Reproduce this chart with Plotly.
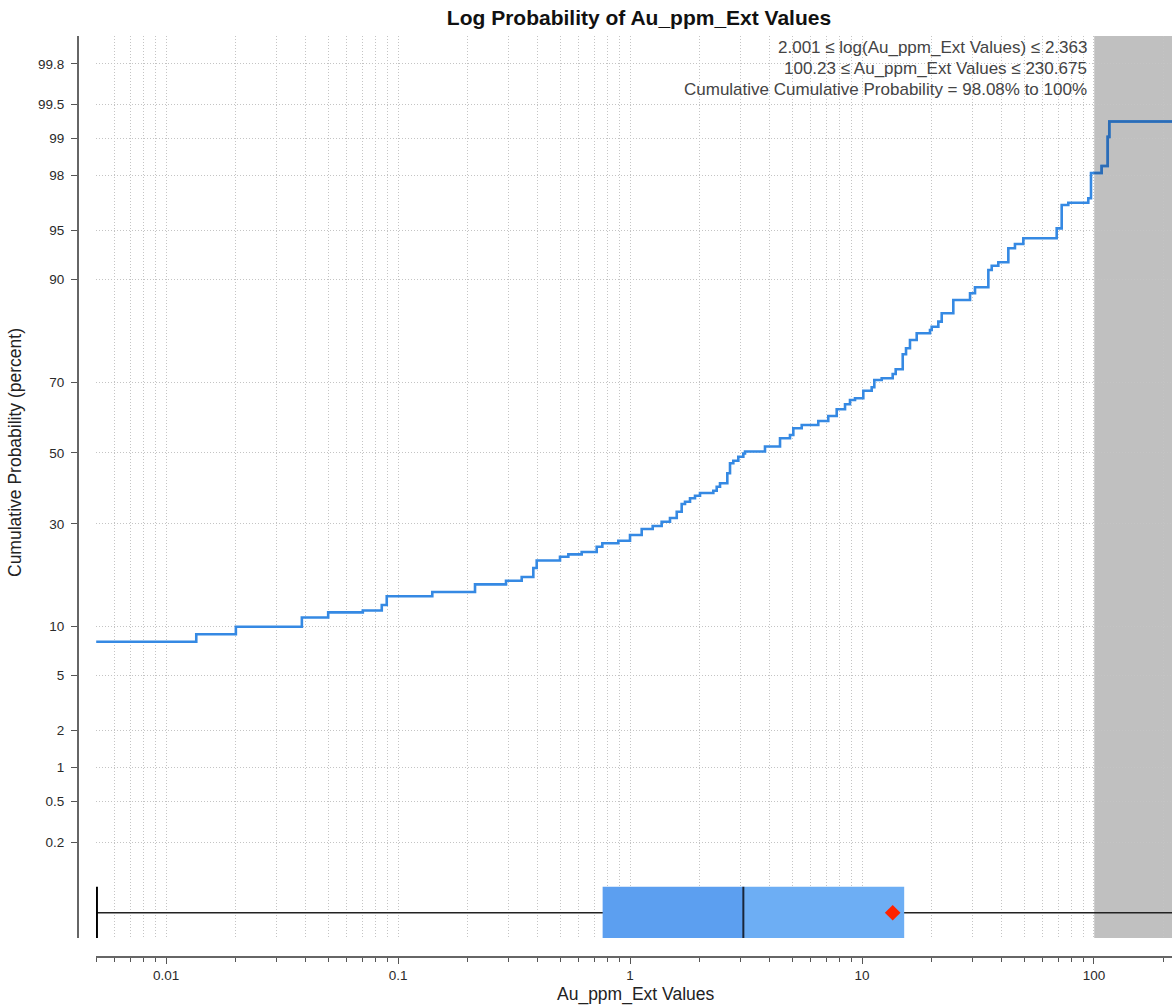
import math
from statistics import NormalDist
import plotly.graph_objects as go

# ---------------- data ----------------
au_values = [0.005, 0.0135, 0.02, 0.0385, 0.05, 0.0705, 0.0851, 0.0894, 0.1405, 0.2147,
             0.2921, 0.3413, 0.383, 0.3961, 0.4991, 0.5422, 0.619, 0.7185, 0.7598, 0.8905,
             1.0, 1.123, 1.2525, 1.3692, 1.487, 1.59, 1.67, 1.726, 1.814, 1.906,
             2.003, 2.286, 2.364, 2.443, 2.627, 2.698, 2.788, 2.93, 3.079, 3.131,
             3.818, 4.432, 4.893, 5.057, 5.497, 6.48, 7.155, 7.78, 8.45, 8.877,
             9.329, 10.13, 11.01, 11.3, 12.16, 13.56, 13.97, 14.98, 15.48, 16.1,
             17.21, 19.64, 19.97, 21.33, 22.06, 24.75, 29.22, 30.7, 35.04, 36.24,
             38.69, 42.73, 45.64, 49.59, 69.06, 72.57, 77.49, 94.5, 97.07, 107.9,
             114.6, 116.4]
cum_prob_pct = [8.14, 9.0, 9.94, 11.19, 11.93, 12.2, 13.04, 14.46, 15.2, 16.57,
                17.25, 17.95, 19.75, 21.33, 22.15, 22.68, 23.2, 24.41, 25.21, 25.83,
                27.21, 28.7, 29.46, 30.57, 31.53, 33.21, 35.3, 35.93, 36.88, 37.61,
                38.37, 39.02, 40.16, 41.13, 44.03, 46.96, 47.73, 48.91, 49.85, 50.44,
                51.92, 54.33, 55.3, 57.25, 58.2, 59.36, 60.78, 62.67, 64.07, 65.25,
                65.71, 67.75, 68.65, 70.54, 70.97, 72.05, 73.21, 76.73, 78.07, 79.84,
                81.2, 81.85, 82.49, 83.43, 84.93, 87.11, 88.12, 88.98, 91.21, 91.7,
                92.08, 93.5, 93.89, 94.39, 95.17, 96.67, 96.79, 97.02, 98.08, 98.31,
                99.03, 99.29]
x_max = 230.675

sel_lo = 100.23
sel_hi = 230.675
sel_log_lo = 2.001
sel_log_hi = 2.363
sel_p_lo = 98.08
sel_p_hi = 100

box_min = 0.005
box_q1 = 0.762
box_median = 3.08
box_q3 = 15.2
box_mean = 13.56
box_max = 230.675

ytick_pct = [0.2, 0.5, 1, 2, 5, 10, 30, 50, 70, 90, 95, 98, 99, 99.5, 99.8]
ytick_text = ["0.2", "0.5", "1", "2", "5", "10", "30", "50", "70", "90", "95", "98", "99", "99.5", "99.8"]
xtick_vals = [0.01, 0.1, 1, 10, 100]
xtick_text = ["0.01", "0.1", "1", "10", "100"]

# ---------------- helpers ----------------
nd = NormalDist()


def probit(p):
    return nd.inv_cdf(p / 100.0)


FONT = "Arial, 'Liberation Sans', sans-serif"
LINE_BLUE = "#3589E3"
LINE_BLUE_SEL = "#2C6CB5"
GRID = "#C4C4C4"
GRID_DASH = "1px,2px"
TICK_FONT = dict(family=FONT, size=13.5, color="#2A2A2A")

# layout constants (positions)
Y_RANGE = [-3.587, 3.084]
X_RANGE = [math.log10(0.00499), math.log10(216.9)]
BOX_Y = -3.40
BOX_H = 0.192

fig = go.Figure()

# cumulative probability step curve
zs = [probit(p) for p in cum_prob_pct]
fig.add_trace(go.Scatter(
    x=au_values + [x_max], y=zs + [zs[-1]],
    mode="lines", line=dict(color=LINE_BLUE, width=2.6, shape="hv"),
    hoverinfo="skip", showlegend=False))

# selected portion (inside grey band) drawn darker
sel_x = [sel_lo] + [v for v in au_values if v > sel_lo] + [x_max]
level_at_lo = [p for v, p in zip(au_values, cum_prob_pct) if v <= sel_lo][-1]
sel_p = [level_at_lo] + [p for v, p in zip(au_values, cum_prob_pct) if v > sel_lo]
sel_z = [probit(p) for p in sel_p]
sel_z = sel_z + [sel_z[-1]]
fig.add_trace(go.Scatter(
    x=sel_x, y=sel_z, mode="lines",
    line=dict(color=LINE_BLUE_SEL, width=2.6, shape="hv"),
    hoverinfo="skip", showlegend=False))

# box plot: whisker
fig.add_trace(go.Scatter(
    x=[box_min, box_max], y=[BOX_Y, BOX_Y], mode="lines",
    line=dict(color="#222222", width=1.5), hoverinfo="skip", showlegend=False))
# lower whisker cap
fig.add_trace(go.Scatter(
    x=[box_min, box_min], y=[BOX_Y - BOX_H, BOX_Y + BOX_H], mode="lines",
    line=dict(color="#000000", width=3.5), hoverinfo="skip", showlegend=False))
# upper whisker cap
fig.add_trace(go.Scatter(
    x=[box_max, box_max], y=[BOX_Y - BOX_H, BOX_Y + BOX_H], mode="lines",
    line=dict(color="#000000", width=3.5), hoverinfo="skip", showlegend=False))
# Q1 - median
fig.add_trace(go.Scatter(
    x=[box_q1, box_median, box_median, box_q1, box_q1],
    y=[BOX_Y - BOX_H, BOX_Y - BOX_H, BOX_Y + BOX_H, BOX_Y + BOX_H, BOX_Y - BOX_H],
    mode="lines", fill="toself", fillcolor="#5C9FF0", line=dict(width=0, color="#5C9FF0"),
    hoverinfo="skip", showlegend=False))
# median - Q3
fig.add_trace(go.Scatter(
    x=[box_median, box_q3, box_q3, box_median, box_median],
    y=[BOX_Y - BOX_H, BOX_Y - BOX_H, BOX_Y + BOX_H, BOX_Y + BOX_H, BOX_Y - BOX_H],
    mode="lines", fill="toself", fillcolor="#6DAEF4", line=dict(width=0, color="#6DAEF4"),
    hoverinfo="skip", showlegend=False))
# median line
fig.add_trace(go.Scatter(
    x=[box_median, box_median], y=[BOX_Y - BOX_H, BOX_Y + BOX_H], mode="lines",
    line=dict(color="#1A2638", width=2), hoverinfo="skip", showlegend=False))
# mean
fig.add_trace(go.Scatter(
    x=[box_mean], y=[BOX_Y], mode="markers",
    marker=dict(symbol="diamond", size=12, color="#FF2200", line=dict(width=0)),
    hoverinfo="skip", showlegend=False))

# grey selection band
fig.add_shape(type="rect", xref="x", yref="y", x0=sel_lo, x1=sel_hi * 10,
              y0=Y_RANGE[0], y1=Y_RANGE[1], fillcolor="#C0C0C0",
              line=dict(width=0), layer="below")

# minor tick values on the log axis
minor_vals = []
for d in range(-3, 3):
    for m in range(2, 10):
        minor_vals.append(m * 10 ** d)

W, H = 1172, 1008
ML, MR, MT, MB = 78, 0, 36, 51
pw = W - ML - MR
ph = H - MT - MB

fig.update_layout(
    width=W, height=H,
    margin=dict(l=ML, r=MR, t=MT, b=MB, pad=0),
    paper_bgcolor="white", plot_bgcolor="white",
    font=dict(family=FONT, size=13.5, color="#222222"),
    title=dict(text="<b>Log Probability of Au_ppm_Ext Values</b>",
               x=639 / W, xref="container", xanchor="center",
               y=1 - 18 / H, yref="container", yanchor="middle",
               font=dict(family=FONT, size=21, color="#111111")),
    xaxis=dict(
        type="log", range=X_RANGE, domain=[18 / pw, 1],
        anchor="free", position=0,
        tickmode="linear", tick0=math.log10(xtick_vals[0]), dtick=1,
        ticks="outside", ticklen=6, tickcolor="#555555", tickwidth=1,
        showline=True, linecolor="#666666", linewidth=2,
        showgrid=True, gridcolor=GRID, griddash=GRID_DASH, gridwidth=1,
        zeroline=False,
        tickfont=TICK_FONT,
        minor=dict(tickmode="array", tickvals=minor_vals, ticks="outside", ticklen=4,
                   tickcolor="#555555", showgrid=True, gridcolor=GRID,
                   griddash=GRID_DASH, gridwidth=1),
    ),
    yaxis=dict(
        range=Y_RANGE, domain=[19 / ph, 1],
        anchor="free", position=0,
        tickmode="array", tickvals=[probit(p) for p in ytick_pct], ticktext=ytick_text,
        ticks="outside", ticklen=6, tickcolor="#555555", tickwidth=1,
        ticklabelstandoff=4,
        showline=True, linecolor="#666666", linewidth=2,
        showgrid=True, gridcolor=GRID, griddash=GRID_DASH, gridwidth=1,
        zeroline=False,
        tickfont=TICK_FONT,
    ),
)

# axis titles as annotations
fig.add_annotation(text="Cumulative Probability (percent)", textangle=-90,
                   xref="paper", yref="paper", x=(15 - ML) / pw, y=(H - MB - 453) / ph,
                   xanchor="center", yanchor="middle", showarrow=False,
                   font=dict(family=FONT, size=17.5, color="#222222"))
fig.add_annotation(text="Au_ppm_Ext Values",
                   xref="paper", yref="paper", x=(636 - ML) / pw, y=(H - MB - 994) / ph,
                   xanchor="center", yanchor="middle", showarrow=False,
                   font=dict(family=FONT, size=17.5, color="#222222"))

# selection info text
info_lines = [
    f"{sel_log_lo:.3f} \u2264 log(Au_ppm_Ext Values) \u2264 {sel_log_hi:.3f}",
    f"{sel_lo} \u2264 Au_ppm_Ext Values \u2264 {sel_hi}",
    f"Cumulative Cumulative Probability = {sel_p_lo:.2f}% to {sel_p_hi}%",
]
for i, (line, py) in enumerate(zip(info_lines, [47, 68, 89])):
    fig.add_annotation(text=line, xref="paper", yref="paper",
                       x=(1089 - ML) / pw, y=(H - MB - py) / ph,
                       xanchor="right", yanchor="middle", showarrow=False,
                       font=dict(family=FONT, size=17, color="#444444"))

fig.write_html(
    "out.html",
    config={"displayModeBar": False},
    post_script="document.body.style.margin='0';document.body.style.padding='0';",
)
